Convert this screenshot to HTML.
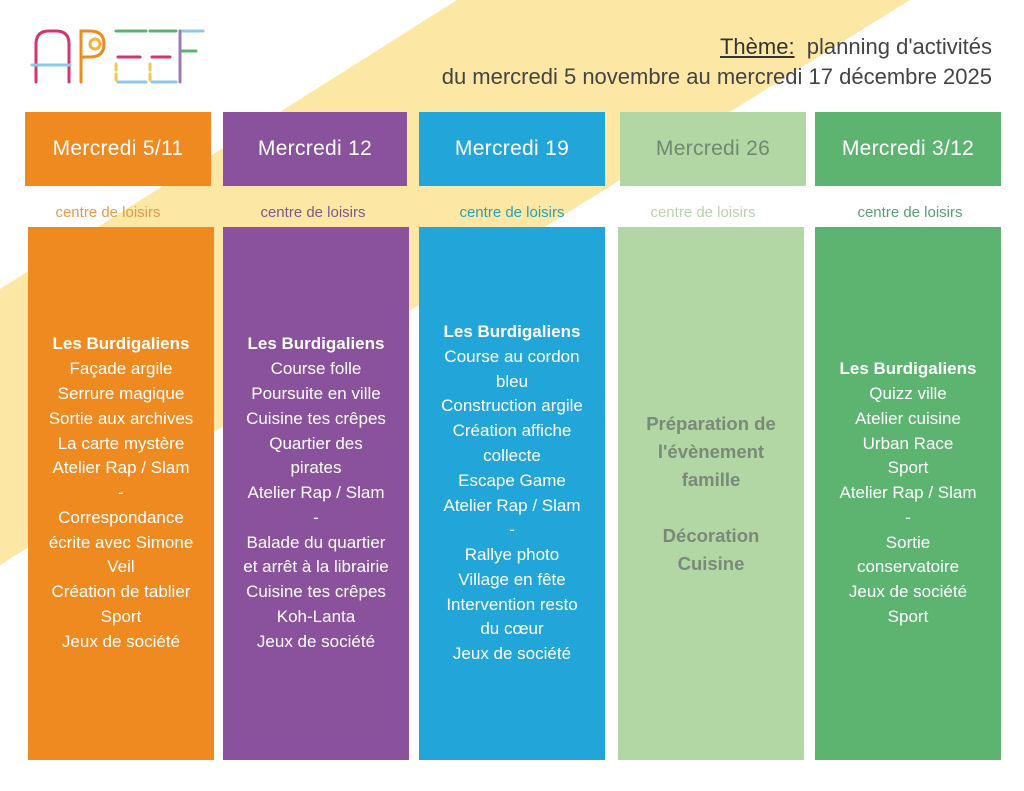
<!DOCTYPE html>
<html><head><meta charset="utf-8"><style>
*{margin:0;padding:0;box-sizing:border-box}
body{width:1024px;height:791px;background:#fff;position:relative;overflow:hidden;font-family:"Liberation Sans",sans-serif}
.bg{position:absolute;left:0;top:0}
.h,.b,.c{position:absolute}
.h{top:112px;height:74px;color:#fff;font-size:21px;display:flex;align-items:center;justify-content:center;letter-spacing:0.3px}
.c{top:204px;height:20px;font-size:15px;text-align:center}
.b{top:227px;height:533px;color:#fff;font-size:17px;line-height:24.8px;display:flex;align-items:center;justify-content:center;text-align:center}
.b b{font-weight:bold}
.title{position:absolute;right:32px;font-size:22px;color:#444;text-align:right}
</style></head><body>
<svg class="bg" width="1024" height="791"><polygon points="457,0 910,0 0,565 0,289" fill="#fde7a4"/>
<g stroke-width="3" fill="none" stroke-linecap="round">
<path d="M36,82 V44 Q36,31 49,31 H56 Q69,31 69,44 V82" stroke="#d2356f"/>
<path d="M32,65 H70" stroke="#8cc8e8"/>
<path d="M81,82 V31 H90 Q104,31 104,44 Q104,57 90,57 H81" stroke="#ee8a1f"/>
<circle cx="95" cy="44" r="5" stroke="#f3b23a"/>
<path d="M116,31 H146" stroke="#5db471"/><path d="M118,57 H140" stroke="#d2356f"/><path d="M116,64 V70 M116,74 V80" stroke="#f3c84a"/><path d="M118,82 H146" stroke="#8cc8e8"/>
<path d="M150,31 H176" stroke="#5db471"/><path d="M152,57 H170" stroke="#d2356f"/><path d="M150,64 V70 M150,74 V80" stroke="#f3c84a"/><path d="M152,82 H176" stroke="#8cc8e8"/>
<path d="M180,31 H203" stroke="#8cc8e8"/><path d="M182,51 H196" stroke="#5db471"/><path d="M180,31 V82" stroke="#9b7bb0"/>
</g></svg>
<div class="title" style="top:34px"><span style="text-decoration:underline;color:#333">Thème:</span>&nbsp; planning d'activités</div>
<div class="title" style="top:64px">du mercredi 5 novembre au mercredi 17 décembre 2025</div>

<div class="h" style="left:25px;width:186px;background:#ee8a1f">Mercredi 5/11</div>
<div class="h" style="left:223px;width:184px;background:#8a519c">Mercredi 12</div>
<div class="h" style="left:419px;width:186px;background:#22a6da">Mercredi 19</div>
<div class="h" style="left:620px;width:186px;background:#b2d6a4;color:#6f8a70">Mercredi 26</div>
<div class="h" style="left:815px;width:186px;background:#5db471">Mercredi 3/12</div>

<div class="c" style="left:10px;width:196px;color:#e49a4a">centre de loisirs</div>
<div class="c" style="left:215px;width:196px;color:#7d5a88">centre de loisirs</div>
<div class="c" style="left:414px;width:196px;color:#2aa0b8">centre de loisirs</div>
<div class="c" style="left:605px;width:196px;color:#b7d3ae">centre de loisirs</div>
<div class="c" style="left:812px;width:196px;color:#5aa070">centre de loisirs</div>

<div class="b" style="left:28px;width:186px;background:#ee8a1f"><div><b>Les Burdigaliens</b><br>Façade argile<br>Serrure magique<br>Sortie aux archives<br>La carte mystère<br>Atelier Rap / Slam<br>-<br>Correspondance<br>écrite avec Simone<br>Veil<br>Création de tablier<br>Sport<br>Jeux de société</div></div>
<div class="b" style="left:223px;width:186px;background:#8a519c"><div><b>Les Burdigaliens</b><br>Course folle<br>Poursuite en ville<br>Cuisine tes crêpes<br>Quartier des<br>pirates<br>Atelier Rap / Slam<br>-<br>Balade du quartier<br>et arrêt à la librairie<br>Cuisine tes crêpes<br>Koh-Lanta<br>Jeux de société</div></div>
<div class="b" style="left:419px;width:186px;background:#22a6da"><div><b>Les Burdigaliens</b><br>Course au cordon<br>bleu<br>Construction argile<br>Création affiche<br>collecte<br>Escape Game<br>Atelier Rap / Slam<br>-<br>Rallye photo<br>Village en fête<br>Intervention resto<br>du cœur<br>Jeux de société</div></div>
<div class="b" style="left:618px;width:186px;background:#b2d6a4;color:#7a8a78;font-weight:bold;font-size:18.5px;line-height:28px"><div>Préparation de<br>l'évènement<br>famille<br><br>Décoration<br>Cuisine</div></div>
<div class="b" style="left:815px;width:186px;background:#5db471"><div><b>Les Burdigaliens</b><br>Quizz ville<br>Atelier cuisine<br>Urban Race<br>Sport<br>Atelier Rap / Slam<br>-<br>Sortie<br>conservatoire<br>Jeux de société<br>Sport</div></div>
</body></html>
